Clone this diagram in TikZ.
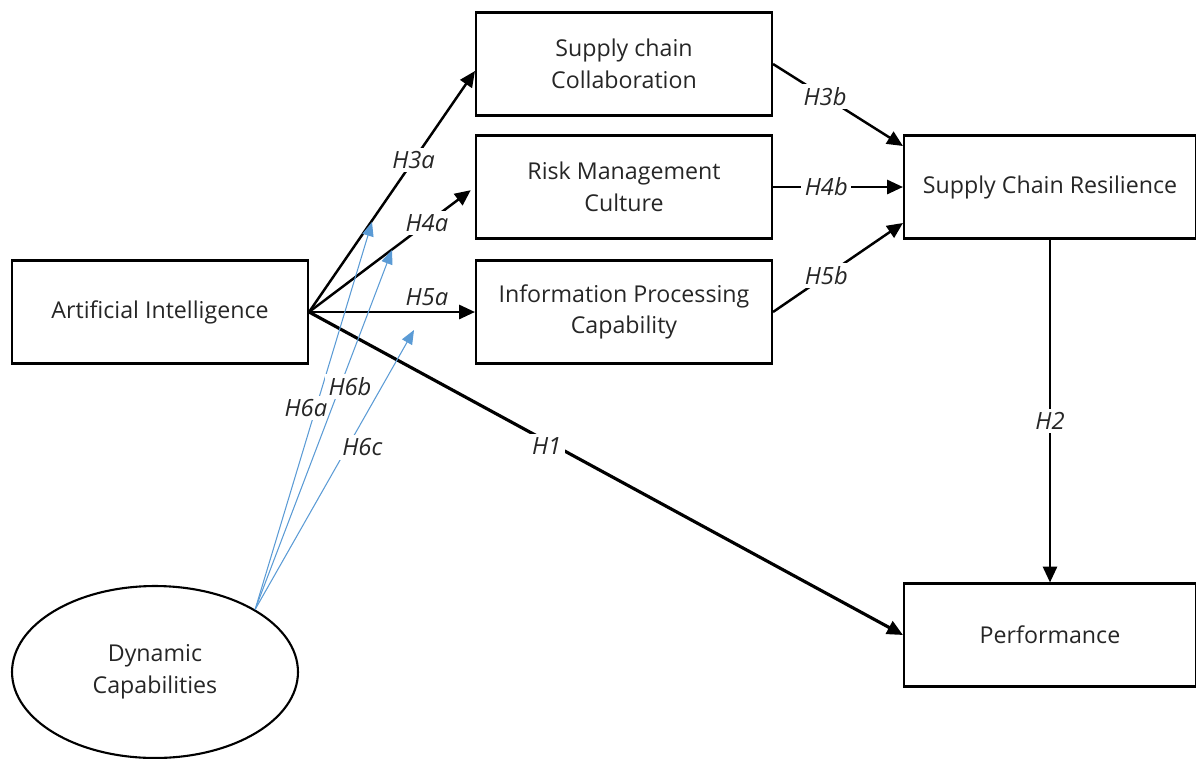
\documentclass[tikz,border=0pt]{standalone}
\usepackage{fontspec}
\setmainfont{Open Sans}
\usetikzlibrary{arrows.meta,shapes.geometric}
\definecolor{txtgray}{HTML}{262626}
\definecolor{hblue}{HTML}{5B9BD5}
\tikzset{
  construct/.style={draw, line width=1.2pt, minimum width=5.92cm, minimum height=2.06cm,
    align=center, text=txtgray, font=\fontsize{13.2}{18}\selectfont},
  patharrow/.style={line width=1.4pt, -{Triangle[length=9pt,width=8pt]}},
  modarrow/.style={hblue, line width=0.6pt, -{Triangle[length=8pt,width=6.5pt]}},
  hlabel/.style={fill=white, inner sep=2pt, text=txtgray, font=\fontsize{13.5}{15}\selectfont\itshape}
}
\begin{document}
\begin{tikzpicture}[x=0.02cm,y=-0.02cm]
    \useasboundingbox (0,0) rectangle (1196,758);

    % Constructs
    \node[construct] (ai)   at (160,312)  {Artificial Intelligence};
    \node[construct] (scc)  at (624,64)   {Supply chain\\Collaboration};
    \node[construct] (rmc)  at (624,187)  {Risk Management\\Culture};
    \node[construct] (ipc)  at (624,312)  {Information Processing\\Capability};
    \node[construct, minimum width=5.84cm] (scr)  at (1050,187) {Supply Chain Resilience};
    \node[construct, minimum width=5.84cm] (perf) at (1050,635) {Performance};
    \node[construct, ellipse, minimum width=5.72cm, minimum height=3.44cm] (dc) at (155,672) {Dynamic\\Capabilities};

    % Free ends of the moderating arrows
    \coordinate (m6a) at (372,222);
    \coordinate (m6b) at (392,250);
    \coordinate (m6c) at (414,330);

    % AI to the mediators
    \draw[patharrow] (ai.east) -- ([yshift=-0.14cm]scc.west) node[hlabel, pos=0.63] {H3a};
    \draw[patharrow, shorten >=3pt] (ai.east) -- (rmc.west) node[hlabel, pos=0.71] {H4a};
    \draw[patharrow] (ai.east) -- (ipc.west) node[hlabel, pos=0.71, above=1pt, fill=none] {H5a};

    % AI to performance
    \draw[patharrow, line width=1.8pt] (ai.east) -- (perf.west) node[hlabel, pos=0.40, yshift=-0.1cm] {H1};

    % Mediators to resilience
    \draw[patharrow] (scc.east) -- ([yshift=0.82cm]scr.west) node[hlabel, pos=0.40] {H3b};
    \draw[patharrow] (rmc.east) -- (scr.west) node[hlabel, pos=0.41] {H4b};
    \draw[patharrow] (ipc.east) -- ([yshift=-0.72cm]scr.west) node[hlabel, pos=0.41] {H5b};

    % Resilience to performance
    \draw[patharrow] (scr.south) -- (perf.north) node[hlabel, pos=0.53] {H2};

    % Moderation by dynamic capabilities
    \draw[modarrow] (dc.32) -- (m6a) node[hlabel, pos=0.52, xshift=-0.2cm] {H6a};
    \draw[modarrow] (dc.32) -- (m6b) node[hlabel, pos=0.62, xshift=0.2cm] {H6b};
    \draw[modarrow] (dc.32) -- (m6c) node[hlabel, pos=0.58, xshift=0.3cm] {H6c};
\end{tikzpicture}
\end{document}
